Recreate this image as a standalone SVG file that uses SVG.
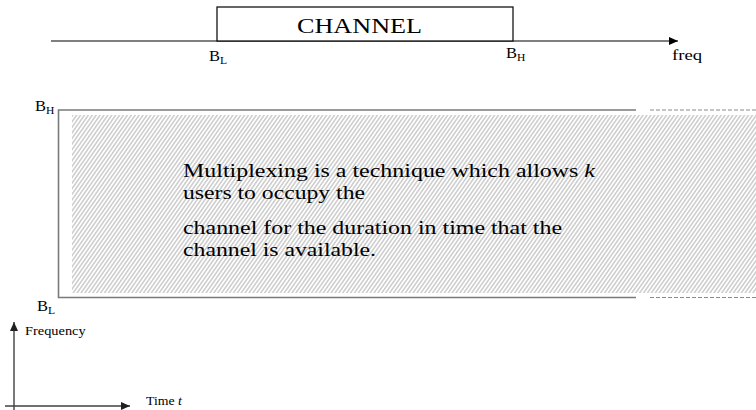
<svg xmlns="http://www.w3.org/2000/svg" width="756" height="410" viewBox="0 0 756 410">
  <style>
    .serif { font-family: "Liberation Serif", "Times New Roman", serif; fill: #000; }
    .frame { stroke: #7a7a7a; stroke-width: 1.6; fill: none; }
    .dash { stroke: #8a8a8a; stroke-width: 1; stroke-dasharray: 4 2; fill: none; }
    .axis { stroke: #000; stroke-width: 1.1; fill: none; }
    .axis2 { stroke: #404040; stroke-width: 1.4; fill: none; }
  </style>
  <defs>
    <!-- fine diagonal hatching for the occupied band -->
    <pattern id="hatch" patternUnits="userSpaceOnUse" width="3.2" height="8" patternTransform="rotate(35)">
      <rect width="3.2" height="8" fill="#ffffff"/>
      <line x1="0.8" y1="0" x2="0.8" y2="8" stroke="#b2b2b2" stroke-width="1"/>
    </pattern>
    <marker id="arrow" markerUnits="userSpaceOnUse" markerWidth="10" markerHeight="8" refX="9" refY="4" orient="auto">
      <path d="M0,0 L9,4 L0,8 Z" fill="#000"/>
    </marker>
    <marker id="arrow2" markerUnits="userSpaceOnUse" markerWidth="10" markerHeight="8" refX="9" refY="4" orient="auto">
      <path d="M0,0 L9,4 L0,8 Z" fill="#202020"/>
    </marker>
  </defs>

  <!-- connectors: frequency axis and time/frequency axes -->
  <g id="connectors">
    <line class="axis" x1="51" y1="41" x2="678" y2="41" marker-end="url(#arrow)"/>
    <line class="axis2" x1="14" y1="412" x2="14" y2="322" marker-end="url(#arrow2)"/>
    <line class="axis2" x1="5" y1="406" x2="130" y2="406" marker-end="url(#arrow2)"/>
  </g>

  <!-- channel box on the frequency axis -->
  <g id="channel">
    <rect x="217" y="7" width="296" height="34" fill="#fff" stroke="#000" stroke-width="1.2"/>
    <text class="serif" x="297" y="32.5" font-size="22" textLength="125" lengthAdjust="spacingAndGlyphs">CHANNEL</text>
  </g>

  <g id="axis-labels">
    <text class="serif" font-size="15" transform="translate(209,61) scale(1.1,1)">B<tspan font-size="10.5" dy="3">L</tspan></text>
    <text class="serif" font-size="15" transform="translate(506,58) scale(1.1,1)">B<tspan font-size="10.5" dy="3">H</tspan></text>
    <text class="serif" font-size="15" transform="translate(672,60) scale(1.25,1)">freq</text>
  </g>

  <!-- occupied band over time -->
  <g id="band">
    <rect x="72" y="115" width="684" height="178" fill="url(#hatch)"/>
    <polyline class="frame" points="636,110 58.5,110 58.5,297.5 636,297.5"/>
    <line class="dash" x1="650" y1="110" x2="756" y2="110"/>
    <line class="dash" x1="650" y1="297.5" x2="756" y2="297.5"/>
    <text class="serif" font-size="15" transform="translate(35,111) scale(1.1,1)">B<tspan font-size="10.5" dy="3">H</tspan></text>
    <text class="serif" font-size="15" transform="translate(37,311) scale(1.1,1)">B<tspan font-size="10.5" dy="3">L</tspan></text>
  </g>

  <g id="note">
    <text class="serif" x="183" y="176.5" font-size="19.5" textLength="412" lengthAdjust="spacingAndGlyphs">Multiplexing is a technique which allows <tspan font-style="italic">k</tspan></text>
    <text class="serif" x="183" y="198.5" font-size="19.5" textLength="182" lengthAdjust="spacingAndGlyphs">users to occupy the</text>
    <text class="serif" x="183" y="234" font-size="19.5" textLength="379" lengthAdjust="spacingAndGlyphs">channel for the duration in time that the</text>
    <text class="serif" x="183" y="255.5" font-size="19.5" textLength="193" lengthAdjust="spacingAndGlyphs">channel is available.</text>
  </g>

  <g id="time-frequency-labels">
    <text class="serif" font-size="12.5" transform="translate(25,335) scale(1.15,1)">Frequency</text>
    <text class="serif" font-size="12" transform="translate(146,405) scale(1.15,1)">Time <tspan font-style="italic">t</tspan></text>
  </g>
</svg>
